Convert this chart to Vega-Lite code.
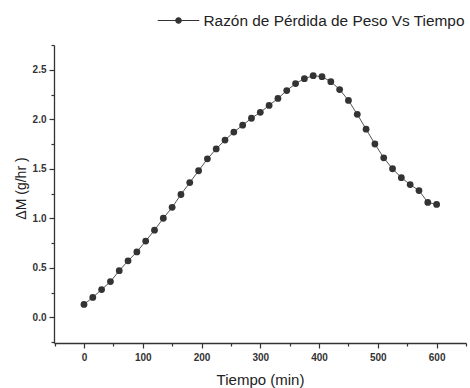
{
  "$schema": "https://vega.github.io/schema/vega-lite/v6.json",
  "autosize": {"type": "none"},
  "padding": {"left": 54, "top": 45, "right": 4, "bottom": 45},
  "width": 412,
  "height": 298,
  "background": "white",
  "config": {
    "view": {"stroke": null},
    "font": "Liberation Sans",
    "axis": {"grid": false, "domainColor": "#333", "tickColor": "#333", "domainWidth": 1.3, "tickWidth": 1.2, "labelColor": "#333", "titleColor": "#222"}
  },
  "data": {
    "values": [
      {"t": 0, "v": 0.13, "s": "Razón de Pérdida de Peso Vs Tiempo"},
      {"t": 15, "v": 0.20, "s": "Razón de Pérdida de Peso Vs Tiempo"},
      {"t": 30, "v": 0.28, "s": "Razón de Pérdida de Peso Vs Tiempo"},
      {"t": 45, "v": 0.36, "s": "Razón de Pérdida de Peso Vs Tiempo"},
      {"t": 60, "v": 0.47, "s": "Razón de Pérdida de Peso Vs Tiempo"},
      {"t": 75, "v": 0.57, "s": "Razón de Pérdida de Peso Vs Tiempo"},
      {"t": 90, "v": 0.66, "s": "Razón de Pérdida de Peso Vs Tiempo"},
      {"t": 105, "v": 0.77, "s": "Razón de Pérdida de Peso Vs Tiempo"},
      {"t": 120, "v": 0.88, "s": "Razón de Pérdida de Peso Vs Tiempo"},
      {"t": 135, "v": 1.00, "s": "Razón de Pérdida de Peso Vs Tiempo"},
      {"t": 150, "v": 1.11, "s": "Razón de Pérdida de Peso Vs Tiempo"},
      {"t": 165, "v": 1.24, "s": "Razón de Pérdida de Peso Vs Tiempo"},
      {"t": 180, "v": 1.36, "s": "Razón de Pérdida de Peso Vs Tiempo"},
      {"t": 195, "v": 1.48, "s": "Razón de Pérdida de Peso Vs Tiempo"},
      {"t": 210, "v": 1.60, "s": "Razón de Pérdida de Peso Vs Tiempo"},
      {"t": 225, "v": 1.70, "s": "Razón de Pérdida de Peso Vs Tiempo"},
      {"t": 240, "v": 1.79, "s": "Razón de Pérdida de Peso Vs Tiempo"},
      {"t": 255, "v": 1.87, "s": "Razón de Pérdida de Peso Vs Tiempo"},
      {"t": 270, "v": 1.94, "s": "Razón de Pérdida de Peso Vs Tiempo"},
      {"t": 285, "v": 2.01, "s": "Razón de Pérdida de Peso Vs Tiempo"},
      {"t": 300, "v": 2.07, "s": "Razón de Pérdida de Peso Vs Tiempo"},
      {"t": 315, "v": 2.14, "s": "Razón de Pérdida de Peso Vs Tiempo"},
      {"t": 330, "v": 2.21, "s": "Razón de Pérdida de Peso Vs Tiempo"},
      {"t": 345, "v": 2.29, "s": "Razón de Pérdida de Peso Vs Tiempo"},
      {"t": 360, "v": 2.36, "s": "Razón de Pérdida de Peso Vs Tiempo"},
      {"t": 375, "v": 2.41, "s": "Razón de Pérdida de Peso Vs Tiempo"},
      {"t": 390, "v": 2.44, "s": "Razón de Pérdida de Peso Vs Tiempo"},
      {"t": 405, "v": 2.43, "s": "Razón de Pérdida de Peso Vs Tiempo"},
      {"t": 420, "v": 2.38, "s": "Razón de Pérdida de Peso Vs Tiempo"},
      {"t": 435, "v": 2.30, "s": "Razón de Pérdida de Peso Vs Tiempo"},
      {"t": 450, "v": 2.19, "s": "Razón de Pérdida de Peso Vs Tiempo"},
      {"t": 465, "v": 2.05, "s": "Razón de Pérdida de Peso Vs Tiempo"},
      {"t": 480, "v": 1.90, "s": "Razón de Pérdida de Peso Vs Tiempo"},
      {"t": 495, "v": 1.75, "s": "Razón de Pérdida de Peso Vs Tiempo"},
      {"t": 510, "v": 1.61, "s": "Razón de Pérdida de Peso Vs Tiempo"},
      {"t": 525, "v": 1.50, "s": "Razón de Pérdida de Peso Vs Tiempo"},
      {"t": 540, "v": 1.41, "s": "Razón de Pérdida de Peso Vs Tiempo"},
      {"t": 555, "v": 1.34, "s": "Razón de Pérdida de Peso Vs Tiempo"},
      {"t": 570, "v": 1.28, "s": "Razón de Pérdida de Peso Vs Tiempo"},
      {"t": 585, "v": 1.16, "s": "Razón de Pérdida de Peso Vs Tiempo"},
      {"t": 600, "v": 1.14, "s": "Razón de Pérdida de Peso Vs Tiempo"}
    ]
  },
  "encoding": {
    "x": {"field": "t", "type": "quantitative", "scale": {"domain": [-51, 650], "nice": false, "zero": false},
      "axis": {"orient": "bottom", "values": [-50, 0, 50, 100, 150, 200, 250, 300, 350, 400, 450, 500, 550, 600, 650],
        "labelExpr": "datum.value % 100 == 0 ? datum.label : ''",
        "tickSize": {"condition": {"test": "datum.value % 100 != 0", "value": 3}, "value": 5},
        "title": "Tiempo (min)", "titleFontSize": 15, "titleFontWeight": "normal", "titlePadding": 10, "labelFontSize": 10, "labelFontWeight": "bold", "labelPadding": 4}},
    "y": {"field": "v", "type": "quantitative", "scale": {"domain": [-0.26, 2.75], "nice": false, "zero": false},
      "axis": {"orient": "left", "values": [-0.25, 0, 0.25, 0.5, 0.75, 1, 1.25, 1.5, 1.75, 2, 2.25, 2.5, 2.75],
        "labelExpr": "(datum.value * 4) % 2 == 0 ? format(datum.value, '.1f') : ''",
        "tickSize": {"condition": {"test": "(datum.value * 4) % 2 != 0", "value": 3}, "value": 5},
        "title": "ΔM (g/hr )", "titleFontSize": 14, "titleFontWeight": "normal", "titlePadding": 4, "titleY": 143,
        "labelFontSize": 10, "labelFontWeight": "bold", "labelPadding": 3}}
  },
  "layer": [
    {
      "mark": {"type": "line", "color": "#555", "strokeWidth": 1}
    },
    {
      "mark": {"type": "point", "filled": true, "size": 46, "opacity": 1},
      "encoding": {
        "color": {"field": "s", "type": "nominal", "scale": {"range": ["#333"]},
          "legend": {"orient": "none", "legendX": 103, "legendY": -46, "title": null, "padding": 0,
            "symbolType": "M-1,0L-0.13,0M0.13,0L1,0M-0.13,0A0.13,0.13 0 1,1 0.13,0A0.13,0.13 0 1,1 -0.13,0Z",
            "symbolSize": 1730, "symbolStrokeWidth": 1.2, "symbolStrokeColor": "#333", "symbolFillColor": "#333",
            "labelFont": "Liberation Sans", "labelFontSize": 15.4, "labelColor": "#222", "labelOffset": 3.5, "labelLimit": 400}}
      }
    }
  ]
}
